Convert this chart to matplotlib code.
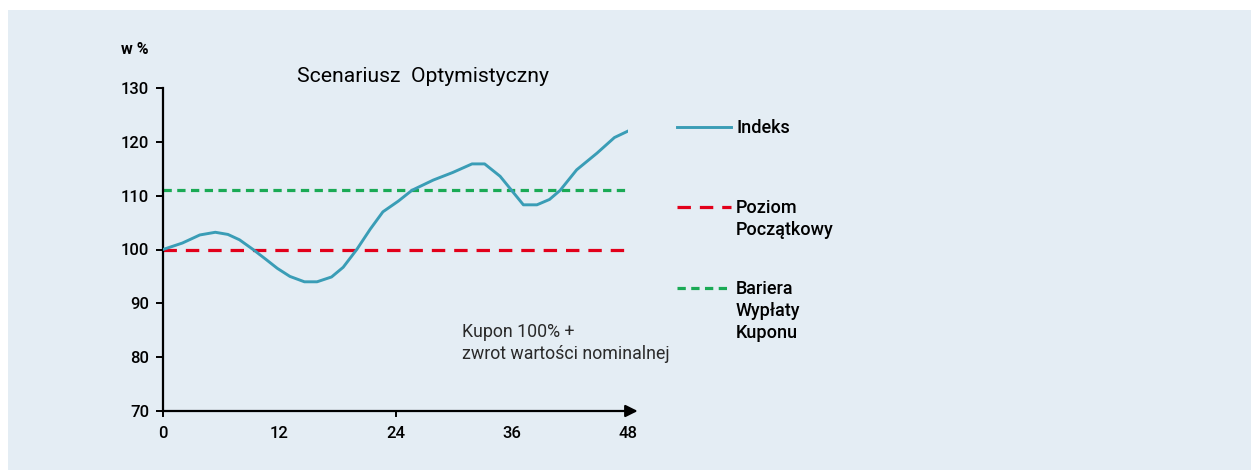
import matplotlib
matplotlib.use("Agg")
import matplotlib.pyplot as plt
from matplotlib.lines import Line2D
from matplotlib.patches import Rectangle

# ---- data ----
months = [0, 2.0, 3.8, 5.4, 6.7, 7.9, 9.3, 10.6, 11.8, 13.1, 14.6, 15.9, 17.4, 18.6,
          20.0, 21.4, 22.7, 24.3, 25.7, 27.9, 29.9, 31.9, 33.2, 34.8, 37.2, 38.6,
          39.9, 41.0, 42.7, 44.8, 46.6, 48.0]
indeks = [100, 101.2, 102.7, 103.2, 102.8, 101.8, 100.0, 98.2, 96.5, 95.0, 94.0, 94.0,
          94.9, 96.7, 100.0, 103.8, 107.0, 109.0, 111.0, 112.9, 114.3, 115.9, 115.9,
          113.6, 108.3, 108.3, 109.3, 111.0, 114.8, 117.9, 120.8, 122.0]
poziom_poczatkowy = 100
bariera = 111
y_ticks = [70, 80, 90, 100, 110, 120, 130]
x_ticks = [0, 12, 24, 36, 48]
legend_labels = ["Indeks", "Poziom\nPoczątkowy", "Bariera\nWypłaty\nKuponu"]
title = "Scenariusz  Optymistyczny"
y_unit = "w %"
note = "Kupon 100% +\nzwrot wartości nominalnej"

teal = "#3A9DB6"
red = "#E2001A"
green = "#1AAA55"
bg = "#E4EDF4"

W, H = 1251, 470
fig = plt.figure(figsize=(W / 100, H / 100), dpi=100)
fig.patch.set_facecolor("white")
fig.add_artist(Rectangle((8 / W, 0), 1 - 8 / W, 1 - 10 / H, transform=fig.transFigure,
                         facecolor=bg, edgecolor="none", zorder=-10))

ax = fig.add_axes([163 / W, 1 - 411 / H, (628 - 163) / W, (411 - 88) / H])
ax.set_facecolor("none")
ax.set_xlim(0, 48)
ax.set_ylim(70, 130)

fam = ["Roboto", "DejaVu Sans"]

ax.plot([0, 48], [poziom_poczatkowy] * 2, color=red, lw=2.3, dashes=(4.2, 2.8), zorder=2)
ax.plot([0, 48], [bariera] * 2, color=green, lw=2.3, dashes=(2.6, 1.7), zorder=2)
ax.plot(months, indeks, color=teal, lw=2.1, zorder=3, solid_joinstyle="round")

for s in ["top", "right", "bottom"]:
    ax.spines[s].set_visible(False)
ax.spines["left"].set_linewidth(1.6)
ax.spines["left"].set_color("black")

# x-axis with arrow
ax.annotate("", xy=(49.0, 70), xytext=(0, 70), xycoords="data",
            arrowprops=dict(arrowstyle="-|>", color="black", lw=1.6,
                            mutation_scale=18, shrinkA=0, shrinkB=0),
            annotation_clip=False)

ax.set_yticks(y_ticks)
ax.set_yticklabels([str(v) for v in y_ticks], fontfamily=fam, fontweight="medium", fontsize=12)
ax.tick_params(axis="y", length=5, width=1.4, direction="out", pad=5, colors="black")
ax.set_xticks(x_ticks)
ax.set_xticklabels([str(v) for v in x_ticks], fontfamily=fam, fontweight="medium", fontsize=12)
ax.tick_params(axis="x", length=0, pad=11, colors="black")
# visible x tick marks at 0 and 24 only
for xt in [0, 24]:
    ax.plot([xt, xt], [70, 69.0], color="black", lw=1.4, clip_on=False, zorder=4)

fig.text(135 / W, 1 - 49 / H, y_unit, fontfamily=fam, fontweight="bold", fontsize=11.5,
         ha="center", va="center")
fig.text(423 / W, 1 - 77 / H, title, fontfamily=fam, fontsize=15.2, ha="center", va="center")
fig.text(462 / W, 1 - 343 / H, note, fontfamily=fam, fontweight="normal", fontsize=12.8,
         ha="left", va="center", linespacing=1.3, color="#2a2a2a")

# legend (manual)
handles = [dict(color=teal, lw=2.1, dashes=None),
           dict(color=red, lw=2.3, dashes=(4.2, 2.8)),
           dict(color=green, lw=2.3, dashes=(2.6, 1.7))]
leg_y = [127, 207, 288]
for lab, h, py in zip(legend_labels, handles, leg_y):
    ln = Line2D([677 / W, 731 / W], [1 - py / H] * 2, transform=fig.transFigure,
                color=h["color"], lw=h["lw"])
    if h["dashes"]:
        ln.set_dashes(h["dashes"])
    fig.add_artist(ln)
    fig.text(736 / W, 1 - (py - 8) / H, lab, fontfamily=fam, fontweight="medium",
             fontsize=13, ha="left", va="top", linespacing=1.3)

fig.savefig("out.png", dpi=100)
